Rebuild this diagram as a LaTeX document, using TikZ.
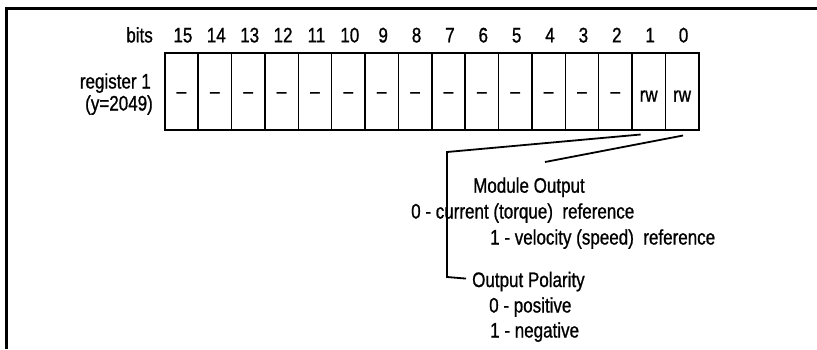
\documentclass[tikz,border=0pt]{standalone}
\usepackage{fontspec}
\setmainfont{Liberation Sans}
\newfontfamily\lowfont[FakeStretch=0.81,FakeBold=0.9]{Liberation Sans}
\usetikzlibrary{calc}
\begin{document}
\begin{tikzpicture}[x=1pt,y=-1pt,
  txt/.style={inner sep=0pt,font=\lowfont\fontsize{21}{24}\selectfont},
  lbl/.style={txt,anchor=base west},
  bittxt/.style={txt,anchor=base},
  regtxt/.style={txt,anchor=base east},
  celltxt/.style={txt},
  cell/.style={draw,line width=1.5pt,minimum width=33.375pt,minimum height=77pt,inner sep=0pt,anchor=north west},
  conn/.style={line width=1.8pt}]
\useasboundingbox (0,0) rectangle (817,349);
% frame
\draw[line width=3pt] (6.5,349) -- (6.5,8.2) -- (817,8.2);
% bit numbers and cells
\foreach \b [evaluate=\b as \i using {15-\b}] in {15,14,...,0}{
  \node[cell] (c\b) at ({164+33.375*\i},52) {};
  \node[bittxt] (n\b) at ($(c\b.north)+(1.5,-9.6)$) {\b};
}
\foreach \b in {15,14,...,2}{
  \node[celltxt] (d\b) at ($(c\b.center)+(0,4)$) {\textendash};
}
\node[celltxt,anchor=base] (r1) at ($(c1.north)+(0,49.7)$) {rw};
\node[celltxt,anchor=base] (r0) at ($(c0.north)+(0,49.7)$) {rw};
% left labels
\node[regtxt] (bits) at (153,42.4) {bits};
\node[regtxt] (reg) at (151,88.5) {register 1};
\node[regtxt] (yv) at (153,110.5) {(y=2049)};
% descriptions
\node[lbl] (mo) at (473,192.7) {Module Output};
\node[lbl] (m0) at (411,218.5) {0 - current (torque)\ \ reference};
\node[lbl] (m1) at (490,244.5) {1 - velocity (speed)\ \ reference};
\node[lbl] (po) at (472,287) {Output Polarity};
\node[lbl] (p0) at (489,312.5) {0 - positive};
\node[lbl] (p1) at (490,337.5) {1 - negative};
% connectors
\coordinate (k1) at (447,152);
\coordinate (k1b) at (447,277);
\coordinate (e0) at (545,162);
\draw[conn] ($(c1.south)+(-8,4)$) -- (k1) -- (k1b) -- ($(po.west)+(-6,-3)$);
\draw[conn] ($(c0.south)+(1,5)$) -- (e0);
\end{tikzpicture}
\end{document}
